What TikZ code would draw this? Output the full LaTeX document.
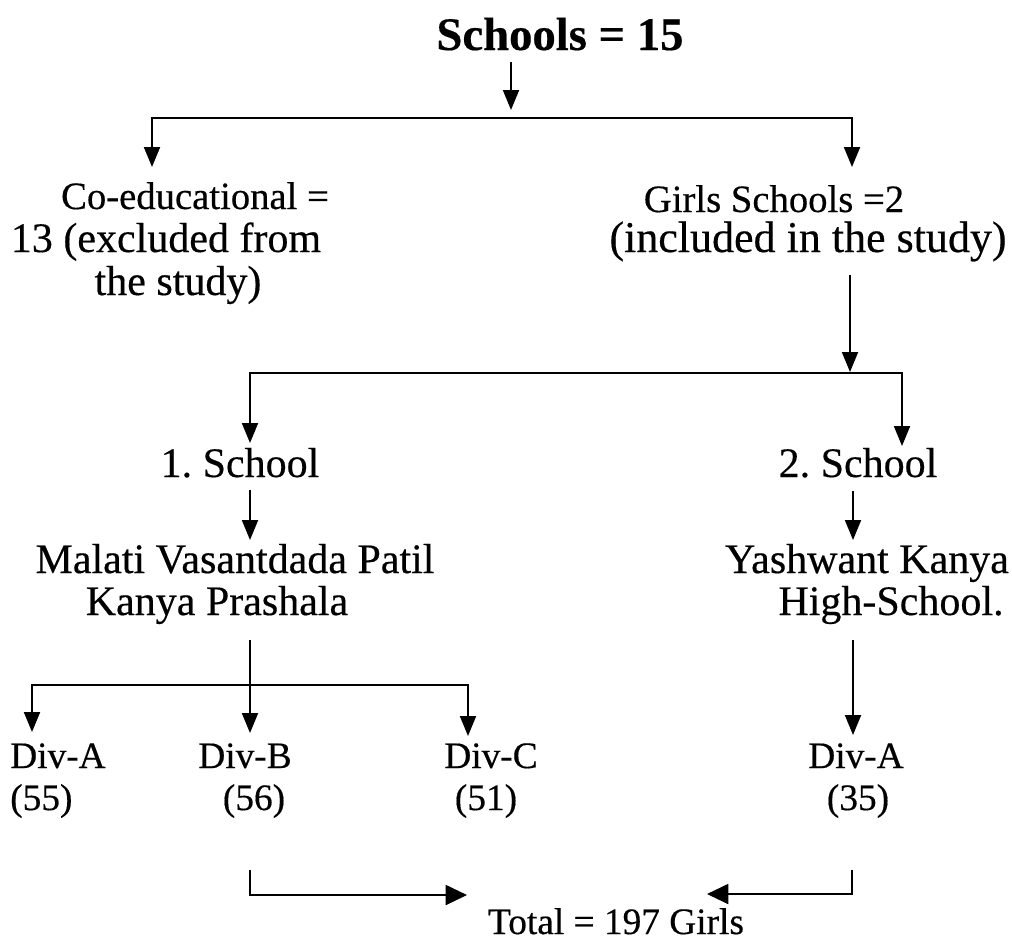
\documentclass[tikz,border=0pt]{standalone}
\usepackage{fontspec}
\setmainfont{Liberation Serif}[FakeBold=0.4]
\usetikzlibrary{arrows.meta}
\frenchspacing
\begin{document}
\begin{tikzpicture}[x=0.75pt,y=-0.75pt,
  lbl/.style={inner sep=0pt, anchor=base},
  conn/.style={line width=1.5pt},
  arr/.style={conn,-{Triangle[length=15pt,width=12pt]}},
  barr/.style={conn,-{Triangle[length=16pt,width=15pt]}},
  big/.style={font=\fontsize{35}{36}\selectfont\bfseries},
  mid/.style={font=\fontsize{31.5}{32}\selectfont},
  wide/.style={font=\fontsize{33}{33}\selectfont},
  sm/.style={font=\fontsize{29}{32}\selectfont},
  dv/.style={font=\fontsize{28}{31.5}\selectfont},
]
\useasboundingbox (0,0) rectangle (1012,943);

% texts
\node[lbl,big] (top) at (560,50) {Schools = 15};
\node[lbl,sm]  (co1) at (195,209) {Co-educational =};
\node[lbl,mid] (co2) at (166,252) {13 (excluded from};
\node[lbl,mid] (co3) at (178,295) {the study)};
\node[lbl,sm]  (gi1) at (774,212) {Girls Schools =2};
\node[lbl,wide] (gi2) at (808,252) {(included in the study)};
\node[lbl,mid] (s1) at (240,477) {1. School};
\node[lbl,mid] (s2) at (858,477) {2. School};
\node[lbl,mid] (m1) at (235,573) {Malati Vasantdada Patil};
\node[lbl,mid] (m2) at (217,615) {Kanya Prashala};
\node[lbl,mid] (y1) at (867,573) {Yashwant Kanya};
\node[lbl,mid] (y2) at (891,615) {High-School.};
\node[lbl,dv,anchor=base west] (da) at (10,768) {Div-A};
\node[lbl,dv,anchor=base west] (na) at (10,810) {(55)};
\node[lbl,dv] (db) at (245,768) {Div-B};
\node[lbl,dv] (nb) at (254,810) {(56)};
\node[lbl,dv] (dc) at (491,768) {Div-C};
\node[lbl,dv] (nc) at (486,810) {(51)};
\node[lbl,dv] (dd) at (856,768) {Div-A};
\node[lbl,dv] (nd) at (858,810) {(35)};
\node[lbl,dv] (tot) at (616,934) {Total = 197 Girls};

% connector points
\coordinate (t0) at (511,62);
\coordinate (t1) at (511,110);
\coordinate (tj) at (511,118);
\coordinate (coTip) at (152,167);
\coordinate (giTip) at (852,167);

\coordinate (g0) at (850,275);
\coordinate (g1) at (850,372);
\coordinate (gj) at (850,373);
\coordinate (s1Tip) at (250,443);
\coordinate (s2Tip) at (902,446);

\coordinate (s1a) at (250,490);
\coordinate (s1b) at (250,540);
\coordinate (s2a) at (853,491);
\coordinate (s2b) at (853,540);

\coordinate (m0) at (250,640);
\coordinate (mj) at (250,685);
\coordinate (dbTip) at (250,733);
\coordinate (daTip) at (32,732);
\coordinate (dcTip) at (468,736);

\coordinate (y0) at (853,640);
\coordinate (ddTip) at (853,735);

\coordinate (bl) at (250,870);
\coordinate (blTip) at (467,895);
\coordinate (br) at (852,870);
\coordinate (brTip) at (707,894);

% connectors
\draw[arr] (t0) -- (t1);
\draw[arr] (tj) -| (coTip);
\draw[arr] (tj) -| (giTip);

\draw[arr] (g0) -- (g1);
\draw[arr] (gj) -| (s1Tip);
\draw[arr] (gj) -| (s2Tip);

\draw[arr] (s1a) -- (s1b);
\draw[arr] (s2a) -- (s2b);

\draw[arr] (m0) -- (dbTip);
\draw[arr] (mj) -| (daTip);
\draw[arr] (mj) -| (dcTip);

\draw[arr] (y0) -- (ddTip);

\draw[barr] (bl) |- (blTip);
\draw[barr] (br) |- (brTip);
\end{tikzpicture}
\end{document}
